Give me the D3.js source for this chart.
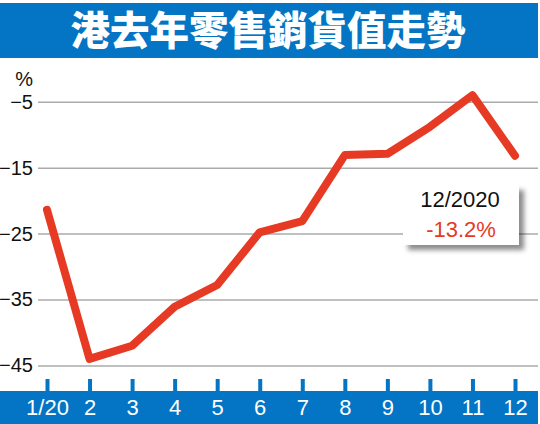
<!DOCTYPE html>
<html><head><meta charset="utf-8">
<script src="https://cdn.jsdelivr.net/npm/d3@7"></script>
<style>body{margin:0;background:#fff}svg{display:block}</style>
</head><body>
<svg id="c" width="540" height="424"></svg>
<script>
const title = "港去年零售銷貨值走勢";
const months = ["1/20","2","3","4","5","6","7","8","9","10","11","12"];
const values = [-21.4,-44.0,-42.0,-36.1,-32.8,-24.8,-23.1,-13.1,-12.9,-8.8,-4.0,-13.2];
const yTicks = [-5,-15,-25,-35,-45];
const noteDate = "12/2020";
const noteValue = "-13.2%";

const svg = d3.select("#c");
const blue = "#0474c4", red = "#e63a24";

const defs = svg.append("defs");
const f = defs.append("filter").attr("id","sh").attr("x","-20%").attr("y","-20%").attr("width","150%").attr("height","160%");
f.append("feDropShadow").attr("dx",5).attr("dy",5).attr("stdDeviation",2.5).attr("flood-color","#000").attr("flood-opacity",0.45);

// title bar
svg.append("rect").attr("x",0).attr("y",3).attr("width",538).attr("height",55).attr("fill",blue);
svg.append("text").attr("x",268).attr("y",31).attr("dy","0.36em").attr("text-anchor","middle")
  .attr("fill","#fff").attr("font-family","'Noto Sans CJK TC','Noto Sans CJK SC',sans-serif")
  .attr("font-weight",900).attr("font-size",39.5).text(title);

const x = d3.scalePoint().domain(months).range([47,515]);
const y = d3.scaleLinear().domain([-45,-5]).range([365.5,101.7]);

// grid + y labels
const yAxis = d3.axisLeft(y).tickValues(yTicks).tickSize(-500).tickFormat(d3.format("d")).tickPadding(5);
const gy = svg.append("g").attr("transform","translate(38,0)").call(yAxis);
gy.select(".domain").remove();
gy.selectAll(".tick line").attr("stroke","#aaa").attr("stroke-width",1.5);
gy.selectAll(".tick text").attr("x",-5).attr("font-family","'Liberation Sans',Arial,sans-serif")
  .attr("font-size",20).attr("fill","#111");
svg.append("text").attr("x",33).attr("y",86).attr("text-anchor","end")
  .attr("font-family","'Liberation Sans',Arial,sans-serif").attr("font-size",20).attr("fill","#111").text("%");

// x axis band
svg.append("rect").attr("x",0).attr("y",391).attr("width",538).attr("height",33).attr("fill",blue);
const xAxis = d3.axisBottom(x).tickSize(12).tickPadding(0);
const gx = svg.append("g").attr("transform","translate(0,379)").call(xAxis);
gx.select(".domain").remove();
gx.selectAll(".tick line").attr("stroke",blue).attr("stroke-width",4);
gx.selectAll(".tick text").attr("y",36).attr("dy",0).attr("fill","#fff")
  .attr("font-family","'Liberation Sans',Arial,sans-serif").attr("font-size",22);

// line
const line = d3.line().x((d,i)=>x(months[i])).y(d=>y(d));
svg.append("path").datum(values).attr("d",line).attr("fill","none").attr("stroke",red)
  .attr("stroke-width",8).attr("stroke-linejoin","round").attr("stroke-linecap","round");

// annotation
svg.append("rect").attr("x",403).attr("y",185).attr("width",116).attr("height",60)
  .attr("fill","#fff").attr("filter","url(#sh)");
svg.append("text").attr("x",460).attr("y",207).attr("text-anchor","middle")
  .attr("font-family","'Liberation Sans',Arial,sans-serif").attr("font-size",22).attr("fill","#111").text(noteDate);
svg.append("text").attr("x",461).attr("y",237).attr("text-anchor","middle")
  .attr("font-family","'Liberation Sans',Arial,sans-serif").attr("font-size",22).attr("fill",red).text(noteValue);
</script>
</body></html>
